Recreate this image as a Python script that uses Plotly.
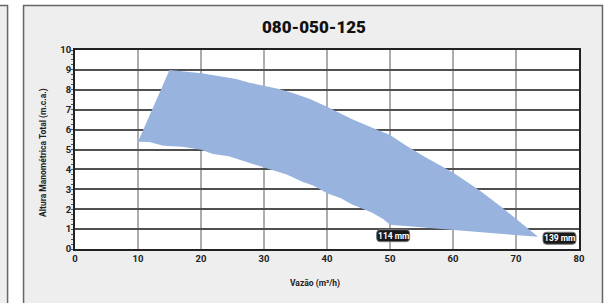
import plotly.graph_objects as go

# 139 mm impeller curve (upper boundary)
upper_q = [15.0, 20.1, 22.6, 25.6, 27.5, 30.0, 32.4, 34.8, 37.3, 40.0, 41.6, 44.0, 47.1, 50.0,
           52.6, 55.7, 60.0, 64.3, 67.9, 70.1, 73.5]
upper_h = [9.0, 8.83, 8.71, 8.54, 8.37, 8.2, 8.04, 7.82, 7.54, 7.15, 6.9, 6.52, 6.11, 5.73,
           5.19, 4.6, 3.85, 2.93, 2.06, 1.51, 0.62]
# 114 mm impeller curve + end-of-range line (lower boundary)
lower_q = [10.0, 11.8, 14.0, 15.2, 17.0, 20.0, 21.9, 24.4, 27.5, 30.0, 33.6, 36.1, 37.9, 40.0,
           42.2, 44.0, 47.1, 48.9, 50.0, 55.7, 61.8, 67.9, 73.5]
lower_h = [5.39, 5.38, 5.19, 5.19, 5.14, 4.99, 4.77, 4.66, 4.36, 4.1, 3.74, 3.38, 3.18, 2.8,
           2.55, 2.23, 1.84, 1.51, 1.22, 1.09, 0.92, 0.75, 0.62]

label_text = ["114 mm", "139 mm"]
label_q = [50.5, 76.9]
label_h = [0.67, 0.54]

x_ticks = [0, 10, 20, 30, 40, 50, 60, 70, 80]
y_ticks = [0, 1, 2, 3, 4, 5, 6, 7, 8, 9, 10]

title_text = "080-050-125"
x_title = "Vazão (m³/h)"
y_title = "Altura Manométrica Total (m.c.a.)"

FONT = "Roboto, 'DejaVu Sans Condensed', sans-serif"
W, H = 608, 303
L, R, T, B = 75, 28.5, 49.5, 54.3
pw = W - L - R
ph = H - T - B


def px_x(p):
    return (p - L) / pw


def px_y(p):
    return (H - B - p) / ph


poly_x = [lower_q[0]] + upper_q + lower_q[::-1]
poly_y = [lower_h[0]] + upper_h + lower_h[::-1]

fig = go.Figure()
fig.add_trace(go.Scatter(
    x=poly_x, y=poly_y, mode="lines", fill="toself",
    fillcolor="#98b4de", line=dict(width=0, color="#98b4de"),
    hoverinfo="skip", showlegend=False,
))

shapes = [
    # left (neighbouring) panel
    dict(type="rect", xref="paper", yref="paper", x0=px_x(-20), x1=px_x(7.5),
         y0=px_y(320), y1=px_y(5), fillcolor="#eeeeee",
         line=dict(color="#666666", width=1.5), layer="below"),
    # main panel
    dict(type="rect", xref="paper", yref="paper", x0=px_x(23.5), x1=px_x(603),
         y0=px_y(320), y1=px_y(5), fillcolor="#eeeeee",
         line=dict(color="#666666", width=1.5), layer="below"),
    # white plotting area
    dict(type="rect", xref="paper", yref="paper", x0=0, x1=1, y0=0, y1=1,
         fillcolor="white", line=dict(width=0), layer="below"),
]

# rounded black label boxes
bw, bh, r = 33, 12, 3.5
rpath = (f"M {-bw/2+r},{-bh/2} L {bw/2-r},{-bh/2} Q {bw/2},{-bh/2} {bw/2},{-bh/2+r} "
         f"L {bw/2},{bh/2-r} Q {bw/2},{bh/2} {bw/2-r},{bh/2} L {-bw/2+r},{bh/2} "
         f"Q {-bw/2},{bh/2} {-bw/2},{bh/2-r} L {-bw/2},{-bh/2+r} Q {-bw/2},{-bh/2} {-bw/2+r},{-bh/2} Z")
annotations = []
for t, q, h in zip(label_text, label_q, label_h):
    shapes.append(dict(type="path", xref="x", yref="y", xsizemode="pixel", ysizemode="pixel",
                       xanchor=q, yanchor=h, path=rpath, fillcolor="#1a1a1a",
                       line=dict(color="#777777", width=1), layer="above"))
    annotations.append(dict(x=q, y=h, xref="x", yref="y", text=t, showarrow=False,
                            xanchor="center", yanchor="middle",
                            font=dict(family=FONT, size=8.5, color="white", weight="bold")))

annotations += [
    dict(x=px_x(314), y=px_y(26), xref="paper", yref="paper", text=title_text,
         xanchor="center", yanchor="middle",
         showarrow=False, font=dict(family=FONT, size=17, color="#111111", weight=900)),
    dict(x=px_x(315), y=px_y(283), xref="paper", yref="paper", text=x_title,
         xanchor="center", yanchor="middle",
         showarrow=False, font=dict(family=FONT, size=8.5, color="#222222", weight="bold")),
    dict(x=px_x(43.5), y=px_y(152), xref="paper", yref="paper", text=y_title, textangle=-90,
         xanchor="center", yanchor="middle",
         showarrow=False, font=dict(family=FONT, size=8.5, color="#222222", weight="bold")),
]

fig.update_layout(
    width=W, height=H,
    margin=dict(l=L, r=R, t=T, b=B, pad=0),
    paper_bgcolor="white", plot_bgcolor="rgba(0,0,0,0)",
    shapes=shapes, annotations=annotations,
    showlegend=False,
)
fig.update_xaxes(
    range=[0, 80], tickvals=x_ticks, ticktext=[str(v) for v in x_ticks],
    showgrid=True, gridcolor="#adadad", gridwidth=1.5,
    showline=True, linecolor="#222222", linewidth=2, mirror=True,
    zeroline=False, ticks="", fixedrange=True,
    tickfont=dict(family=FONT, size=9.5, color="#222222", weight="bold"),
)
fig.update_yaxes(
    range=[0, 10], tickvals=y_ticks, ticktext=[str(v) for v in y_ticks],
    showgrid=True, gridcolor="#505050", gridwidth=1.8,
    showline=True, linecolor="#222222", linewidth=2, mirror=True,
    zeroline=False, ticks="", fixedrange=True,
    minor=dict(ticks="outside", ticklen=2, dtick=0.25, tickcolor="#555555", tickwidth=1, showgrid=False),
    tickfont=dict(family=FONT, size=9.5, color="#222222", weight="bold"),
)

fig.write_html(
    "out.html",
    config={"displayModeBar": False},
    post_script="document.body.style.margin='0';document.body.style.overflow='hidden';",
)
